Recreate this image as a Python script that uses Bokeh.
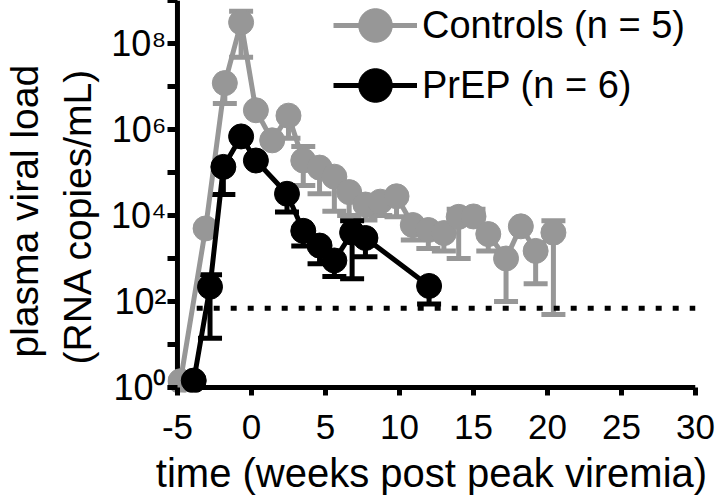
import numpy as np
from bokeh.plotting import figure
from bokeh.models import (Range1d, FixedTicker, Whisker, TeeHead, ColumnDataSource,
                          Legend, LegendItem, LinearAxis, LogAxis, Span, Title)
from bokeh.embed import file_html
from bokeh.resources import INLINE

# ---- data ----
ctrl_weeks = [-4.8, -3.1, -1.8, -0.7, 0.3, 1.4, 2.5, 3.5, 4.6, 5.6, 6.6, 7.7, 8.7, 9.8,
              10.9, 11.95, 13.0, 14.0, 15.0, 16.0, 17.2, 18.2, 19.2, 20.4]
ctrl_vl = [1.4, 5.0e3, 1.2e7, 3.1e8, 2.8e6, 5.6e5, 2.1e6, 1.9e5, 1.3e5, 8.0e4, 3.5e4, 1.8e4,
           2.1e4, 2.8e4, 6.0e3, 4.6e3, 3.9e3, 9.3e3, 9.5e3, 3.7e3, 1.0e3, 5.6e3, 1.5e3, 4.0e3]
ctrl_lo = [1.4, 5.0e3, 4.0e6, 4.8e7, 2.8e6, 5.6e5, 6.3e5, 5.0e4, 3.2e4, 1.26e4, 1.0e4, 7.9e3,
           1.0e4, 9.3e3, 2.7e3, 1.7e3, 1.5e3, 1.0e3, 9.5e3, 1.5e3, 100, 5.6e3, 260, 50]
ctrl_hi = [1.4, 5.0e3, 1.2e7, 5.6e8, 2.8e6, 5.6e5, 2.1e6, 4.0e5, 1.3e5, 8.0e4, 3.5e4, 1.8e4,
           2.1e4, 2.8e4, 6.0e3, 4.6e3, 3.9e3, 1.4e4, 1.4e4, 3.7e3, 1.0e3, 5.6e3, 1.5e3, 7.6e3]

prep_weeks = [-3.9, -2.8, -1.9, -0.7, 0.3, 2.4, 3.5, 4.6, 5.6, 6.8, 7.7, 12.0]
prep_vl = [1.45, 220, 1.35e5, 6.9e5, 1.9e5, 3.2e4, 4.4e3, 2.0e3, 900, 4.0e3, 3.0e3, 230]
prep_lo = [1.45, 14, 3.1e4, 6.9e5, 1.9e5, 1.2e4, 1.95e3, 760, 380, 340, 1.1e3, 87]
prep_hi = [1.45, 420, 1.35e5, 6.9e5, 1.9e5, 3.2e4, 4.4e3, 2.0e3, 900, 7.6e3, 3.0e3, 230]

lod_value = 70
lod_weeks = [-3.7, 30]

x_ticks = [-5, 0, 5, 10, 15, 20, 25, 30]
x_tick_labels = ["-5", "0", "5", "10", "15", "20", "25", "30"]
y_ticks = [1e0, 1e1, 1e2, 1e3, 1e4, 1e5, 1e6, 1e7, 1e8, 1e9]
y_tick_labels = ["10\u2070", "", "10\u00b2", "", "10\u2074", "", "10\u2076", "", "10\u2078", ""]

series_labels = ["Controls (n = 5)", "PrEP (n = 6)"]
x_title = "time (weeks post peak viremia)"
y_title_lines = ["plasma viral load", "(RNA copies/mL)"]
ctrl_color = "#979797"
prep_color = "#000000"

FONT = "Liberation Sans"

p = figure(width=720, height=500,
           x_range=Range1d(-5.673, 30), y_range=Range1d(10 ** -0.116, 1e9),
           y_axis_type="log", x_axis_location=None, y_axis_location=None,
           output_backend="svg", toolbar_location=None,
           min_border_left=165, min_border_right=25, min_border_top=0, min_border_bottom=108)
p.outline_line_color = None
p.grid.visible = False
p.background_fill_color = "white"

common_text = dict(major_label_text_font=FONT, major_label_text_color="black",
                   axis_label_text_font=FONT, axis_label_text_color="black",
                   axis_label_text_font_style="normal", minor_tick_line_color=None)

# axis lines at x = -5 and y = 10^0, drawn under the markers
p.add_layout(Span(location=x_ticks[0], dimension="height", line_color="black",
                  line_width=5, level="underlay"))
p.add_layout(Span(location=y_ticks[0], dimension="width", line_color="black",
                  line_width=5, level="underlay"))

# axes carrying ticks, tick labels and titles
xa = LinearAxis(ticker=FixedTicker(ticks=x_ticks),
                major_label_overrides={t: l for t, l in zip(x_ticks, x_tick_labels)},
                axis_line_color=None, major_tick_line_width=5, major_tick_line_color="black",
                major_tick_out=3, major_tick_in=5, major_label_standoff=19,
                major_label_text_font_size="35px",
                axis_label=x_title, axis_label_standoff=9, axis_label_text_font_size="40px",
                **common_text)
p.add_layout(xa, "below")

ya = LogAxis(ticker=FixedTicker(ticks=y_ticks),
             major_label_overrides={t: l for t, l in zip(y_ticks, y_tick_labels)},
             axis_line_color=None, major_tick_line_width=5, major_tick_line_color="black",
             major_tick_out=0, major_tick_in=10,
             major_label_standoff=1, major_label_text_font_size="36px", **common_text)
p.add_layout(ya, "left")

# two-line y title, placed a little below the frame centre like the reference
title_style = dict(align="left", text_font=FONT, text_font_size="39px",
                   text_font_style="normal", text_color="black")
p.add_layout(Title(text=y_title_lines[1], standoff=17, offset=28, **title_style), "left")
p.add_layout(Title(text=y_title_lines[0], standoff=0, offset=35, **title_style), "left")

# detection limit
p.line(lod_weeks, [lod_value, lod_value], line_color="black", line_width=5,
       line_dash="6 11", line_cap="butt")

# controls
csrc = ColumnDataSource(dict(x=ctrl_weeks, y=ctrl_vl, lo=ctrl_lo, hi=ctrl_hi))
p.add_layout(Whisker(source=csrc, base="x", lower="lo", upper="hi", dimension="height",
                     line_color=ctrl_color, line_width=5,
                     upper_head=TeeHead(size=24, line_width=5, line_color=ctrl_color),
                     lower_head=TeeHead(size=24, line_width=5, line_color=ctrl_color)))
c_line = p.line("x", "y", source=csrc, line_color=ctrl_color, line_width=5)
c_pts = p.scatter("x", "y", source=csrc, size=25, fill_color=ctrl_color, line_color=ctrl_color)

# PrEP
psrc = ColumnDataSource(dict(x=prep_weeks, y=prep_vl, lo=prep_lo, hi=prep_hi))
p.add_layout(Whisker(source=psrc, base="x", lower="lo", upper="hi", dimension="height",
                     line_color=prep_color, line_width=5,
                     upper_head=TeeHead(size=24, line_width=5, line_color=prep_color),
                     lower_head=TeeHead(size=24, line_width=5, line_color=prep_color)))
p_line = p.line("x", "y", source=psrc, line_color=prep_color, line_width=5)
p_pts = p.scatter("x", "y", source=psrc, size=25, fill_color=prep_color, line_color=prep_color)

legend_style = dict(glyph_width=84, glyph_height=84, padding=0, margin=0,
                    border_line_alpha=0, background_fill_alpha=0,
                    label_text_font=FONT, label_text_font_size="38px", label_standoff=5,
                    label_text_color="black")
p.add_layout(Legend(items=[LegendItem(label=series_labels[0], renderers=[c_line, c_pts])],
                    location=(166, 325), **legend_style))
p.add_layout(Legend(items=[LegendItem(label=series_labels[1], renderers=[p_line, p_pts])],
                    location=(166, 265), **legend_style))

open("out.html", "w").write(file_html(p, INLINE))
